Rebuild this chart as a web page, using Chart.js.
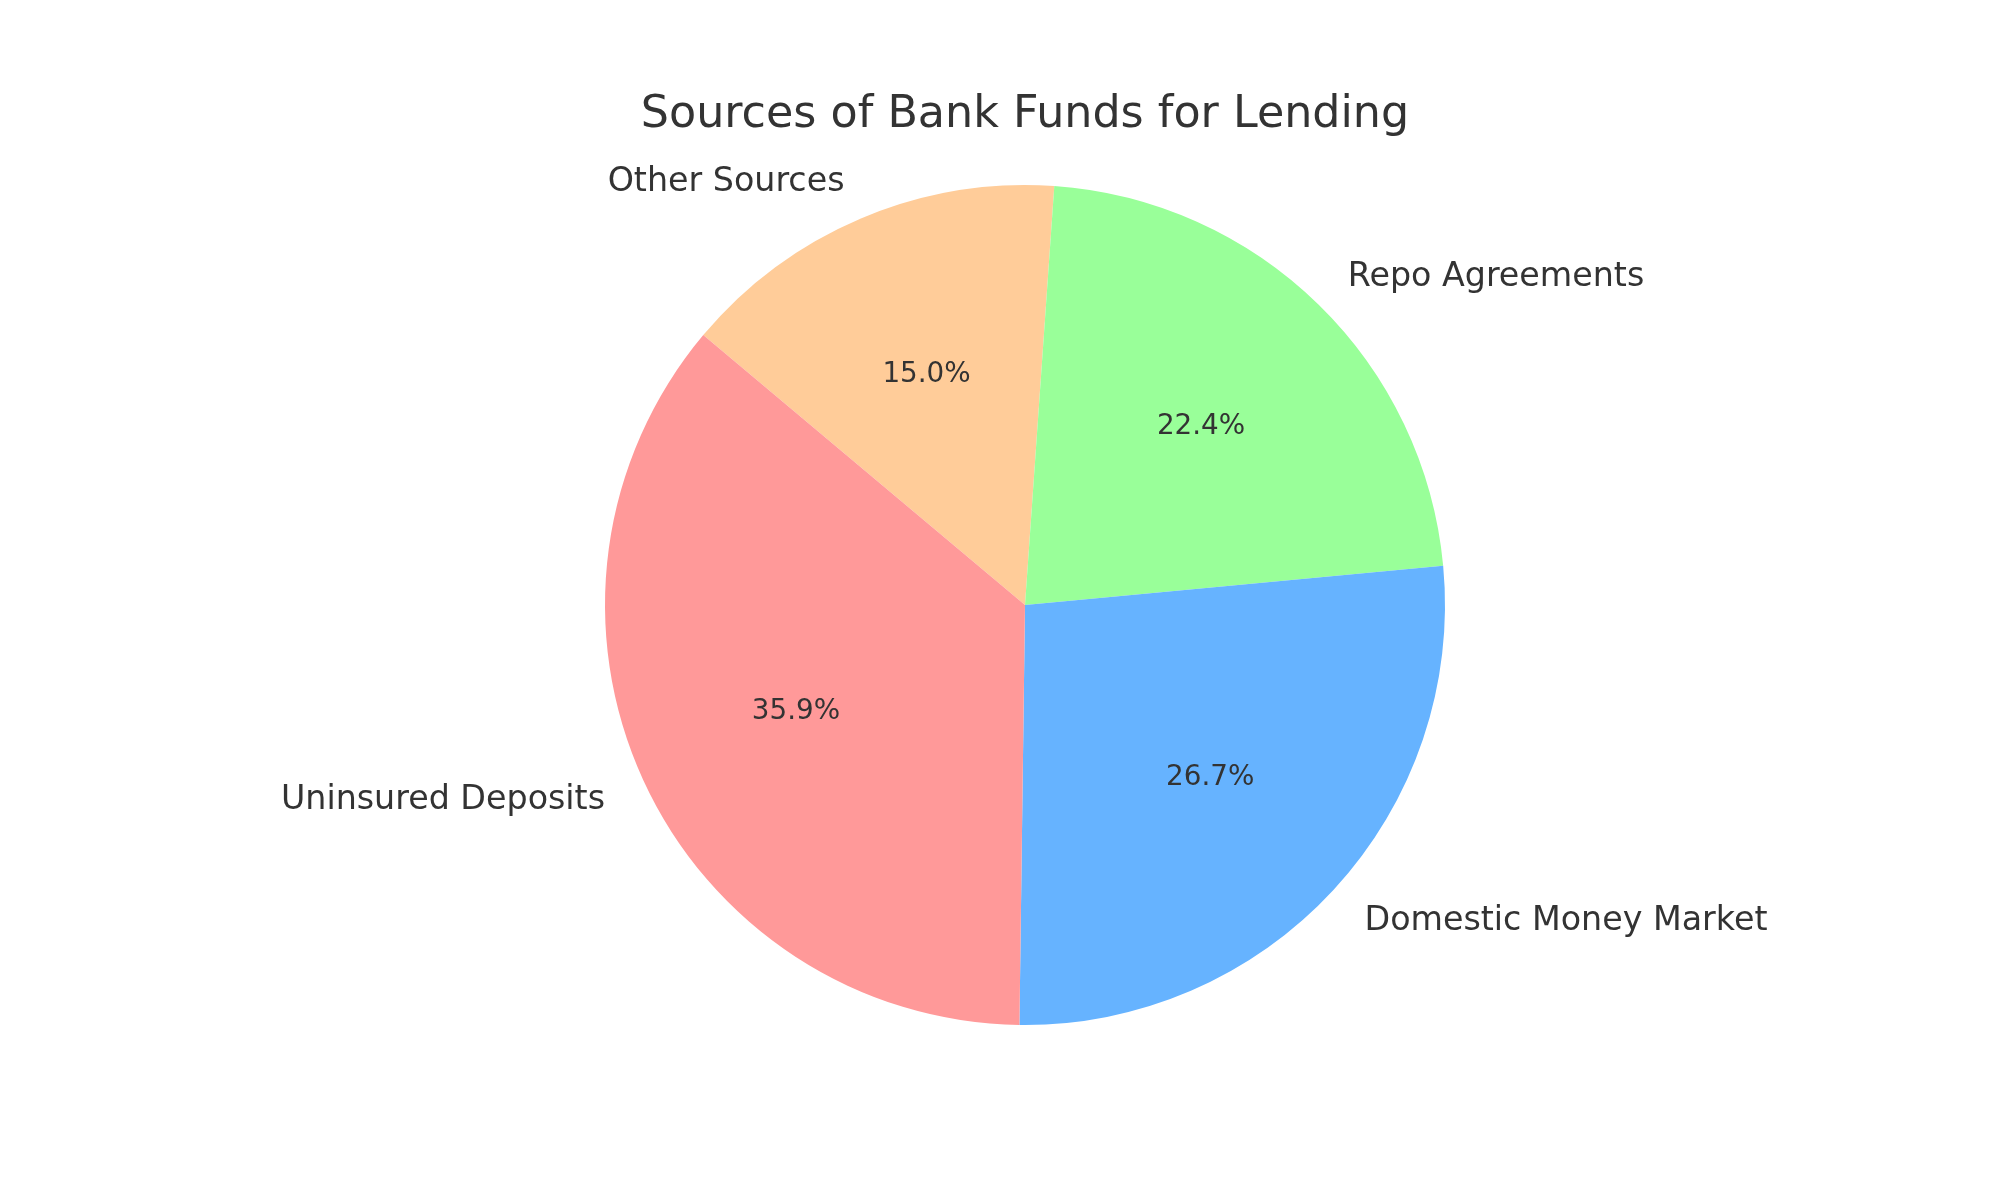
<!DOCTYPE html>
<html>
<head>
<meta charset="utf-8">
<script src="https://cdn.jsdelivr.net/npm/chart.js@4/dist/chart.umd.min.js"></script>
<style>
  html, body { margin: 0; padding: 0; background: #ffffff; }
  #wrap { width: 2000px; height: 1200px; position: relative; }
</style>
</head>
<body>
<div id="wrap"><canvas id="c" width="2000" height="1200"></canvas></div>
<script>
// Data (ordered clockwise as drawn)
const categories = ["Other Sources", "Repo Agreements", "Domestic Money Market", "Uninsured Deposits"];
const shares = [15.0, 22.4, 26.7, 35.9];
const sliceColors = ["#ffcc99", "#99ff99", "#66b3ff", "#ff9999"];
const chartTitle = "Sources of Bank Funds for Lending";

const textColor = "#333333";
const fontFamily = "'DejaVu Sans', sans-serif";

const labelPlugin = {
  id: 'pieLabels',
  afterDatasetsDraw(chart) {
    const ctx = chart.ctx;
    const meta = chart.getDatasetMeta(0);
    const total = shares.reduce((a, b) => a + b, 0);
    ctx.save();
    ctx.fillStyle = textColor;
    meta.data.forEach((arc, i) => {
      const p = arc.getProps(['x', 'y', 'startAngle', 'endAngle', 'outerRadius'], true);
      const mid = (p.startAngle + p.endAngle) / 2;
      const c = Math.cos(mid), s = Math.sin(mid);
      // category label at 1.1 r
      ctx.font = "33.3px " + fontFamily;
      ctx.textBaseline = 'middle';
      ctx.textAlign = c < 0 ? 'right' : 'left';
      ctx.fillText(categories[i], p.x + 1.1 * p.outerRadius * c, p.y + 1.1 * p.outerRadius * s + 3);
      // percentage at 0.6 r
      ctx.font = "27.8px " + fontFamily;
      ctx.textAlign = 'center';
      const pct = (shares[i] / total * 100).toFixed(1) + '%';
      ctx.fillText(pct, p.x + 0.6 * p.outerRadius * c, p.y + 0.6 * p.outerRadius * s + 2);
    });
    // title
    ctx.font = "44.4px " + fontFamily;
    ctx.textAlign = 'center';
    ctx.textBaseline = 'middle';
    ctx.fillText(chartTitle, meta.data[0].x, 115);
    ctx.restore();
  }
};

new Chart(document.getElementById('c'), {
  type: 'pie',
  data: {
    labels: categories,
    datasets: [{
      data: shares,
      backgroundColor: sliceColors,
      borderWidth: 0,
      hoverOffset: 0
    }]
  },
  options: {
    responsive: false,
    animation: false,
    rotation: -50,
    layout: { padding: { top: 185, bottom: 175, left: 605, right: 555 } },
    plugins: {
      legend: { display: false },
      title: { display: false },
      tooltip: { enabled: false }
    }
  },
  plugins: [labelPlugin]
});
</script>
</body>
</html>
